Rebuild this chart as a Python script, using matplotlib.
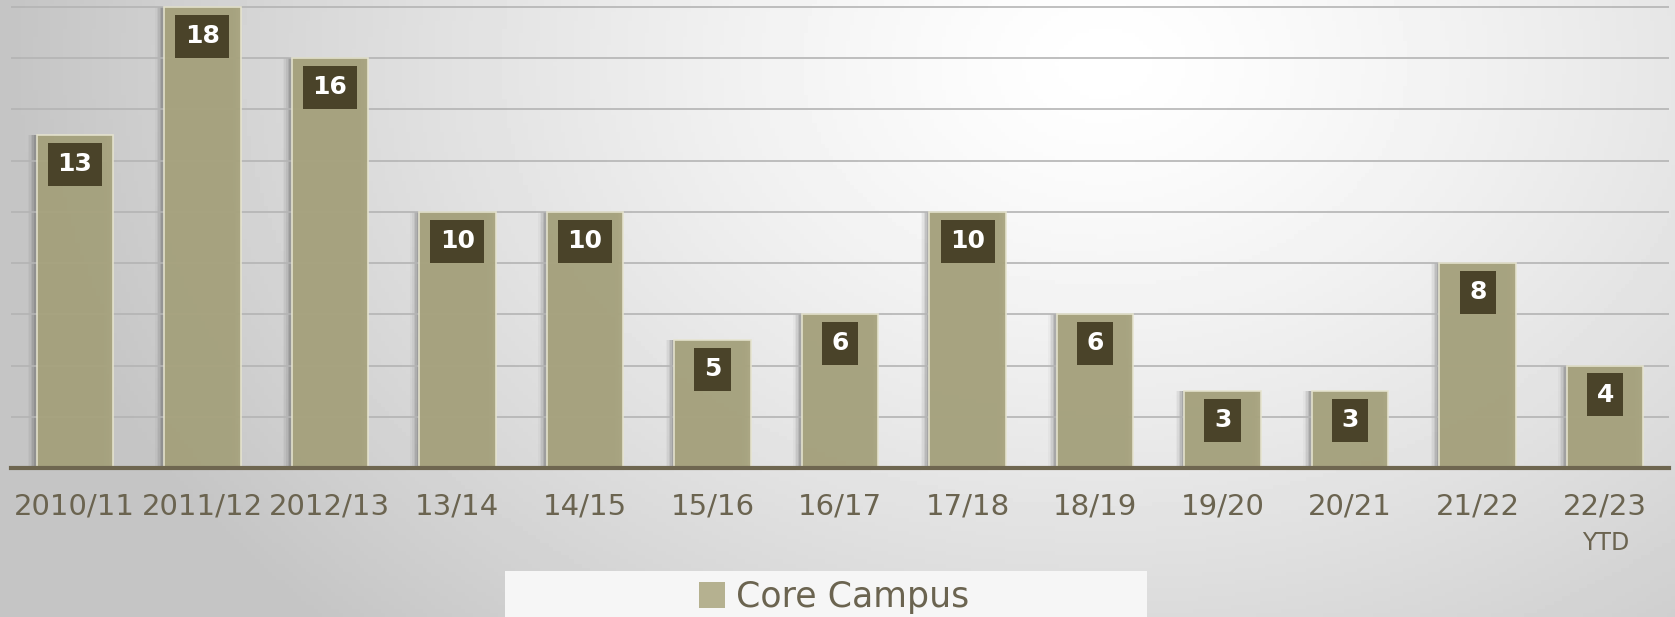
import matplotlib

matplotlib.use("Agg")
import matplotlib.pyplot as plt
import numpy as np
from matplotlib.patches import Rectangle

plt.rcParams["font.family"] = "DejaVu Sans"

years = ["2010/11", "2011/12", "2012/13", "13/14", "14/15", "15/16", "16/17",
         "17/18", "18/19", "19/20", "20/21", "21/22", "22/23\nYTD"]
core_campus = [13, 18, 16, 10, 10, 5, 6, 10, 6, 3, 3, 8, 4]

BAR = "#a7a37e"
EDGE = "#e6e4cf"
LABELBOX = "#4a4329"
TXT = "#6b6450"

W, H = 1675, 617
fig = plt.figure(figsize=(W / 100, H / 100), dpi=100)

# background: soft radial gradient, light near top centre-right
bg = fig.add_axes([0, 0, 1, 1], zorder=-10)
gx, gy = np.meshgrid(np.linspace(0, 1, 400), np.linspace(0, 1, 150))
d = np.sqrt(((gx - 0.66) / 0.7) ** 2 + ((gy - 0.1) / 1.4) ** 2)
shade = np.clip(1.0 - 0.25 * d ** 1.3, 0.77, 1.0)
bg.imshow(shade, cmap="gray", vmin=0, vmax=1, aspect="auto",
          extent=[0, 1, 0, 1], origin="upper")
bg.axis("off")

ax = fig.add_axes([11 / W, 1 - 468 / H, (1669 - 11) / W, 468 / H])
ax.patch.set_alpha(0)
x = np.arange(len(years))

ax.set_xlim(-0.5, len(years) - 0.5)
ax.set_ylim(0, 18.27)
ax.set_yticks(np.arange(2, 19, 2))
ax.yaxis.grid(True, color="#b4b4b4", lw=1.2, zorder=0)
ax.tick_params(axis="y", left=False, labelleft=False)
ax.tick_params(axis="x", bottom=False, labelsize=21, labelcolor=TXT, pad=14)
for s in ["top", "right", "left"]:
    ax.spines[s].set_visible(False)
ax.spines["bottom"].set_color("#6e6650")
ax.spines["bottom"].set_linewidth(3)
ax.spines["bottom"].set_zorder(5)

# soft shadow on the left of each bar
for k, a in enumerate([0.16, 0.12, 0.09, 0.06, 0.04]):
    ax.bar(x - 0.02 - 0.012 * k, core_campus, width=0.6, color="#444444",
           alpha=a, zorder=1, lw=0)
ax.bar(x, core_campus, width=0.6, color=BAR, alpha=0.95, edgecolor=EDGE,
       lw=1.2, zorder=2)

# first line of each category as tick label, second line smaller below
ax.set_xticks(x)
ax.set_xticklabels([y.split("\n")[0] for y in years])
for xi, y in zip(x, years):
    if "\n" in y:
        ax.annotate(y.split("\n")[1], (xi, 0), xytext=(0, -54),
                    textcoords="offset points", ha="center", va="center",
                    fontsize=17, color=TXT, annotation_clip=False)

for xi, v in zip(x, core_campus):
    ax.annotate(str(v), (xi, v), xytext=(0, -21), textcoords="offset points",
                ha="center", va="center", color="white", fontsize=18,
                fontweight="bold", zorder=6,
                bbox=dict(boxstyle="square,pad=0.38", fc=LABELBOX, ec="none"))

# legend panel
fig.patches.append(Rectangle((505 / W, 0), (1147 - 505) / W, (H - 571) / H,
                             transform=fig.transFigure, fc="#f6f6f6",
                             ec="none", zorder=-5))
handle = Rectangle((0, 0), 1, 1, fc="#b5b190", ec="none")
fig.legend([handle], ["Core Campus"], loc="center",
           bbox_to_anchor=(834 / W, 1 - 597 / H), frameon=False,
           fontsize=25, labelcolor=TXT, handlelength=0.75, handleheight=0.75,
           handletextpad=0.3)

fig.savefig("out.png", dpi=100)
